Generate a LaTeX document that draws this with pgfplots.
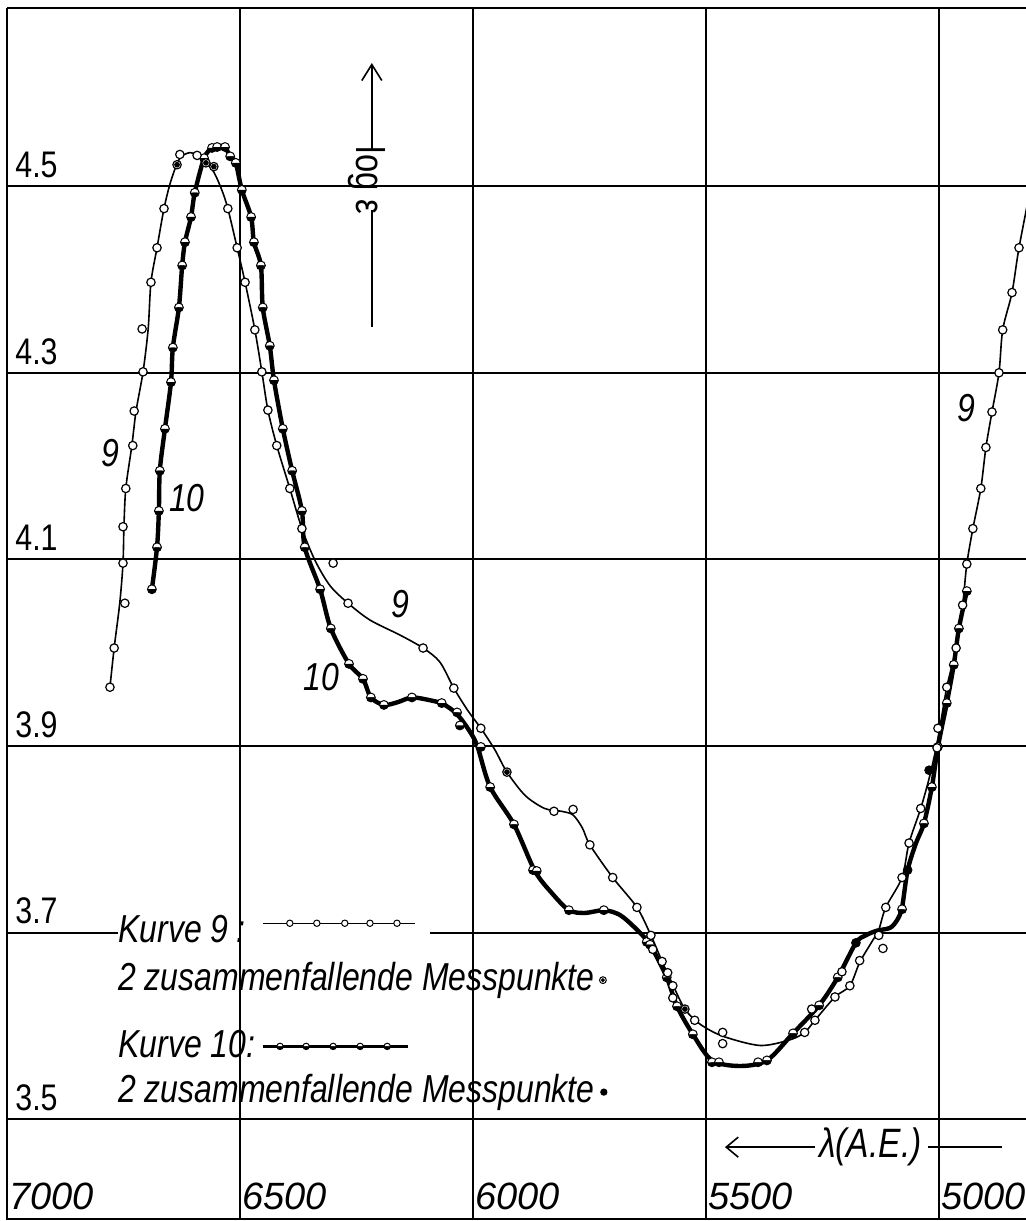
\documentclass[border=0pt]{standalone}
\usepackage{fontspec}
\setmainfont{Liberation Sans}[FakeStretch=0.82]
\newfontfamily\widefont{Liberation Sans}
\usepackage{pgfplots}
\pgfplotsset{compat=1.18}
\usetikzlibrary{calc,plotmarks,arrows.meta}

\newcommand\lgd{\itshape\fontsize{19.5}{20}\selectfont}
\newcommand\crv{\itshape\fontsize{19.5}{20}\selectfont}

\begin{document}
\begin{tikzpicture}
\begin{axis}[
  scale only axis, width=509.5pt, height=605.5pt,
  xmin=4813, xmax=7000, ymin=3.393, ymax=4.691,
  x dir=reverse,
  xtick={5000,5500,6000,6500,7000},
  ytick={3.5,3.9,4.1,4.3,4.5},
  extra y ticks={3.7},
  extra y tick style={grid=none},
  grid=major,
  major grid style={black, line width=1pt},
  major tick length=0pt,
  axis line style={draw=none},
  /pgf/number format/assume math mode=true,
  /pgf/number format/1000 sep={},
  yticklabel style={anchor=south west, font=\fontsize{18.5}{18.5}\selectfont,
    inner xsep=4pt, inner ysep=4pt,
    /pgf/number format/fixed, /pgf/number format/precision=1},
  xticklabel style={anchor=south west, font=\widefont\itshape\fontsize{19}{19}\selectfont,
    inner xsep=1pt, inner ysep=4.5pt},
]

% 3.7 grid line, broken by the legend
\draw[line width=1pt] (axis cs:7000,3.7) -- (axis cs:6762,3.7);
\draw[line width=1pt] (axis cs:6092,3.7) -- (axis cs:4813,3.7);

% curve 9: drawn line
\addplot[black, line width=0.8pt, smooth, tension=0.5] coordinates {
(6779,3.963) (6770,4.005) (6758,4.053) (6751,4.096) (6749,4.135) (6745,4.176)
(6732,4.222) (6723,4.259) (6708,4.301) (6697,4.347) (6691,4.397) (6678,4.434)
(6663,4.476) (6648,4.506) (6629,4.530) (6607,4.536) (6592,4.533) (6573,4.525)
(6556,4.515) (6539,4.496) (6526,4.476) (6506,4.434) (6489,4.397) (6468,4.346)
(6453,4.301) (6440,4.260) (6421,4.222) (6393,4.176) (6367,4.133) (6339,4.099)
(6307,4.072) (6268,4.053) (6221,4.035) (6157,4.019) (6107,4.005) (6071,3.990)
(6041,3.962) (6011,3.938) (5983,3.919) (5953,3.896) (5927,3.872) (5888,3.847)
(5846,3.833) (5810,3.830) (5785,3.826) (5765,3.812) (5749,3.794) (5700,3.759)
(5648,3.727) (5618,3.697) (5594,3.669) (5571,3.644) (5545,3.618) (5513,3.602)
(5464,3.589) (5384,3.579) (5320,3.585) (5288,3.593) (5266,3.606) (5223,3.631)
(5191,3.643) (5170,3.668) (5144,3.690) (5129,3.703) (5114,3.727) (5079,3.759)
(5064,3.796) (5039,3.833) (5019,3.869) (5002,3.908) (4983,3.963) (4963,4.005)
(4949,4.051) (4940,4.095) (4927,4.133) (4910,4.176) (4899,4.220) (4886,4.258)
(4871,4.300) (4863,4.346) (4843,4.386) (4828,4.434) (4800,4.506)
};

% curve 10: drawn line
\addplot[black, line width=2.2pt, smooth, tension=0.5, line join=round] coordinates {
(6689,4.068) (6678,4.113) (6674,4.152) (6672,4.195) (6661,4.240) (6648,4.290)
(6644,4.327) (6631,4.370) (6624,4.415) (6618,4.440) (6605,4.467) (6597,4.493)
(6577,4.530) (6560,4.541) (6543,4.543) (6532,4.542) (6521,4.532) (6509,4.525)
(6496,4.496) (6476,4.467) (6470,4.440) (6455,4.415) (6451,4.370) (6436,4.329)
(6427,4.292) (6408,4.240) (6388,4.195) (6367,4.152) (6361,4.113) (6328,4.068)
(6305,4.026) (6266,3.988) (6236,3.972) (6219,3.952) (6191,3.944) (6161,3.947)
(6131,3.952) (6092,3.949) (6064,3.945) (6034,3.934) (6006,3.915) (5990,3.899)
(5963,3.856) (5912,3.816) (5867,3.766) (5830,3.742) (5794,3.724) (5760,3.721)
(5719,3.724) (5685,3.719) (5652,3.705) (5620,3.687) (5584,3.652) (5562,3.621)
(5528,3.591) (5487,3.563) (5427,3.557) (5369,3.563) (5313,3.592) (5257,3.622)
(5217,3.652) (5178,3.689) (5157,3.697) (5133,3.702) (5105,3.705) (5090,3.713)
(5079,3.727) (5067,3.767) (5049,3.796) (5032,3.817) (5015,3.856) (5002,3.899)
(4983,3.946) (4968,3.987) (4957,4.026) (4940,4.066)
};

% curve 10: measured points
\addplot[only marks, mark=halfcircle*, mark size=2.2pt, mark color=black,
  mark options={draw=black, fill=white, line width=0.5pt}] coordinates {
(6689,4.068) (6678,4.113) (6674,4.152) (6672,4.195) (6661,4.240) (6648,4.290)
(6644,4.327) (6631,4.370) (6624,4.415) (6618,4.440) (6605,4.467) (6597,4.493)
(6577,4.530) (6560,4.541) (6549,4.542) (6532,4.542) (6521,4.532) (6509,4.525)
(6496,4.496) (6476,4.467) (6470,4.440) (6455,4.415) (6451,4.370) (6436,4.329)
(6427,4.292) (6408,4.240) (6388,4.195) (6367,4.152) (6361,4.113) (6328,4.068)
(6305,4.026) (6266,3.988) (6236,3.972) (6219,3.952) (6191,3.944) (6131,3.952)
(6067,3.946) (6034,3.936) (6028,3.922) (5983,3.899) (5963,3.856) (5912,3.816)
(5871,3.767) (5863,3.766) (5794,3.724) (5719,3.724) (5627,3.690) (5620,3.687)
(5584,3.652) (5562,3.621) (5528,3.591) (5487,3.561) (5472,3.561) (5388,3.561)
(5369,3.563) (5313,3.592) (5257,3.622) (5217,3.652) (5079,3.725) (5032,3.817)
(5015,3.856) (5002,3.899) (4983,3.946) (4968,3.987) (4957,4.026) (4940,4.066)
};
% curve 10: coinciding points
\addplot[only marks, mark=*, mark size=2.2pt,
  mark options={draw=black, fill=black}] coordinates {
(5178,3.689) (5067,3.767) (5021,3.874)
};

% curve 9: measured points
\addplot[only marks, mark=*, mark size=2.1pt,
  mark options={draw=black, fill=white, line width=0.6pt}] coordinates {
(6779,3.963) (6770,4.005) (6747,4.053) (6751,4.096) (6751,4.135) (6745,4.176)
(6730,4.222) (6727,4.259) (6708,4.301) (6710,4.347) (6691,4.397) (6678,4.434)
(6663,4.476) (6629,4.534) (6592,4.533) (6526,4.476) (6506,4.434) (6489,4.397)
(6468,4.346) (6453,4.301) (6440,4.260) (6421,4.222) (6393,4.176) (6367,4.133)
(6300,4.096) (6268,4.053) (6107,4.005) (6041,3.962) (5983,3.919) (5826,3.830)
(5785,3.832) (5749,3.794) (5700,3.759) (5648,3.727) (5618,3.697) (5614,3.682)
(5594,3.669) (5582,3.657) (5571,3.643) (5571,3.630) (5524,3.606) (5464,3.593)
(5464,3.581) (5288,3.593) (5273,3.618) (5266,3.606) (5223,3.631) (5208,3.658)
(5191,3.643) (5170,3.670) (5129,3.697) (5120,3.683) (5114,3.727) (5079,3.759)
(5064,3.796) (5039,3.833) (5004,3.898) (5002,3.919) (4983,3.963) (4963,4.005)
(4949,4.051) (4940,4.095) (4927,4.133) (4910,4.176) (4899,4.220) (4886,4.258)
(4871,4.300) (4863,4.346) (4843,4.386) (4828,4.434)
};
% curve 9: coinciding points
\addplot[only marks, mark=*, mark size=2.1pt,
  mark options={draw=black, fill=white, line width=0.6pt}] coordinates {
(6635,4.523) (6573,4.525) (6556,4.521) (5927,3.872) (5545,3.618)
};
\addplot[only marks, mark=*, mark size=1.2pt, mark options={fill=black}] coordinates {
(6635,4.523) (6573,4.525) (6556,4.521) (5927,3.872) (5545,3.618)
};

% legend samples
\addplot[black, line width=0.7pt] coordinates {(6451,3.710) (6124,3.710)};
\addplot[only marks, mark=*, mark size=1.6pt,
  mark options={draw=black, fill=white, line width=0.5pt}] coordinates {
(6393,3.710) (6335,3.710) (6275,3.710) (6221,3.710) (6163,3.710)};
\addplot[black, line width=1.6pt] coordinates {(6451,3.578) (6139,3.578)};
\addplot[only marks, mark=halfcircle*, mark size=1.6pt, mark color=black,
  mark options={draw=black, fill=white, line width=0.5pt}] coordinates {
(6414,3.578) (6358,3.578) (6300,3.578) (6242,3.578) (6184,3.578)};
\addplot[only marks, mark=*, mark size=1.7pt,
  mark options={draw=black, fill=white, line width=0.5pt}] coordinates {(5721,3.649)};
\addplot[only marks, mark=*, mark size=0.8pt, mark options={fill=black}] coordinates {(5721,3.649)};
\addplot[only marks, mark=*, mark size=1.6pt,
  mark options={draw=black, fill=black}] coordinates {(5719,3.529)};

% legend text
\node[font=\lgd, anchor=base west, inner sep=0pt] at (axis cs:6762,3.689) {Kurve 9\hspace{4pt}:};
\node[font=\lgd, anchor=base west, inner sep=0pt] at (axis cs:6762,3.638) {2 zusammenfallende Messpunkte};
\node[font=\lgd, anchor=base west, inner sep=0pt] at (axis cs:6762,3.566) {Kurve 10:};
\node[font=\lgd, anchor=base west, inner sep=0pt] at (axis cs:6762,3.518) {2 zusammenfallende Messpunkte};

% curve labels
\node[font=\crv] at (axis cs:6779,4.214) {9};
\node[font=\crv] at (axis cs:6614,4.166) {10};
\node[font=\crv] at (axis cs:6155,4.052) {9};
\node[font=\crv] at (axis cs:6326,3.974) {10};
\node[font=\crv] at (axis cs:4940,4.262) {9};

% log epsilon arrow
\draw[line width=0.8pt] (axis cs:6217,4.349) -- (axis cs:6217,4.474);
\draw[line width=0.8pt, -{Straight Barb[length=8pt,width=10pt]}] (axis cs:6217,4.538) -- (axis cs:6217,4.632);
\node[rotate=-90, font=\fontsize{20}{20}\selectfont] at (axis cs:6228,4.506) {log ε};

% lambda arrow
\draw[line width=0.8pt, -{Straight Barb[length=6pt,width=10pt]}] (axis cs:5266,3.470) -- (axis cs:5459,3.470);
\draw[line width=0.8pt] (axis cs:5023,3.470) -- (axis cs:4865,3.470);
\node[font=\itshape\fontsize{20.5}{21}\selectfont] at (axis cs:5147,3.470) {λ(A.E.)};
\end{axis}
\draw[line width=1.4pt] (current axis.north east) -- (current axis.north west);
\draw[line width=1.1pt] (current axis.north west) -- (current axis.south west) -- (current axis.south east);
\pgfresetboundingbox
\path ($(current axis.south west)+(-3.5pt,-1pt)$) rectangle ($(current axis.north east)+(0pt,4pt)$);
\end{tikzpicture}
\end{document}
